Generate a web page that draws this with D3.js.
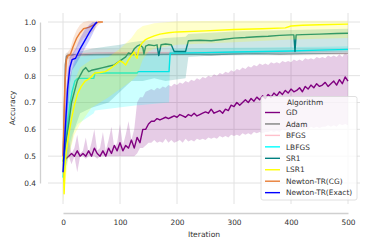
<!DOCTYPE html>
<html>
<head>
<meta charset="utf-8">
<script src="https://cdn.jsdelivr.net/npm/d3@7"></script>
<style>
body { margin: 0; background: #fff; }
svg { display: block; font-family: "DejaVu Sans", sans-serif; }
</style>
</head>
<body>
<svg id="chart" width="374" height="249"></svg>
<script>
const algorithms = ['GD', 'Adam', 'BFGS', 'LBFGS', 'SR1', 'LSR1', 'Newton-TR(CG)', 'Newton-TR(Exact)'];
const colors = ['#800080', '#808080', '#ffc0cb', '#00ffff', '#008080', '#ffff00', '#e87d35', '#0000ff'];
const xTicks = [0, 100, 200, 300, 400, 500];
const yTicks = [0.4, 0.5, 0.6, 0.7, 0.8, 0.9, 1.0];

// GD, one value every 5 iterations
const gdIter = d3.range(0, 505, 5);
const gdMean = [0.5,0.49,0.5,0.51,0.5,0.52,0.5,0.51,0.5,0.52,0.5,0.53,0.51,0.5,0.52,0.5,0.53,0.51,0.54,0.52,
	0.55,0.52,0.54,0.53,0.56,0.53,0.57,0.55,0.6,0.6,0.62,0.63,0.63,0.64,0.635,0.64,0.645,0.64,0.645,0.65,
	0.645,0.655,0.65,0.645,0.655,0.65,0.66,0.65,0.655,0.66,0.665,0.66,0.675,0.66,0.665,0.67,0.66,0.675,0.67,0.69,
	0.685,0.7,0.69,0.7,0.71,0.7,0.715,0.705,0.72,0.71,0.725,0.715,0.73,0.72,0.735,0.725,0.74,0.73,0.745,0.735,
	0.75,0.74,0.745,0.755,0.74,0.76,0.75,0.765,0.755,0.77,0.76,0.765,0.775,0.76,0.77,0.78,0.765,0.785,0.77,0.795,0.78];
const gdHi = [0.5,0.51,0.56,0.51,0.53,0.58,0.51,0.52,0.57,0.51,0.55,0.6,0.52,0.53,0.59,0.52,0.56,0.61,0.53,0.55,
	0.62,0.54,0.58,0.63,0.56,0.6,0.7,0.72,0.72,0.74,0.745,0.75,0.745,0.755,0.75,0.76,0.755,0.765,0.76,0.77,
	0.765,0.775,0.77,0.78,0.775,0.785,0.78,0.79,0.785,0.795,0.79,0.8,0.795,0.805,0.8,0.81,0.805,0.815,0.81,0.82,
	0.815,0.825,0.82,0.83,0.825,0.835,0.83,0.84,0.835,0.845,0.84,0.845,0.84,0.85,0.845,0.85,0.845,0.855,0.85,0.855,
	0.85,0.86,0.855,0.86,0.855,0.865,0.86,0.865,0.86,0.87,0.865,0.87,0.865,0.875,0.87,0.875,0.87,0.88,0.87,0.885,0.875];
const gdLo = [0.45,0.48,0.5,0.47,0.5,0.44,0.5,0.5,0.49,0.5,0.5,0.5,0.49,0.5,0.5,0.5,0.5,0.5,0.5,0.5,
	0.5,0.5,0.5,0.5,0.5,0.5,0.51,0.53,0.53,0.54,0.55,0.55,0.56,0.55,0.555,0.55,0.565,0.55,0.56,0.55,
	0.555,0.56,0.55,0.565,0.555,0.56,0.555,0.565,0.56,0.565,0.56,0.57,0.565,0.57,0.565,0.575,0.57,0.575,0.57,0.58,
	0.575,0.58,0.575,0.585,0.58,0.585,0.58,0.59,0.585,0.59,0.585,0.59,0.59,0.595,0.59,0.595,0.59,0.6,0.595,0.6,
	0.595,0.6,0.6,0.605,0.6,0.605,0.6,0.61,0.605,0.61,0.605,0.61,0.61,0.615,0.61,0.615,0.61,0.62,0.615,0.62,0.615];

const adamIter = [0, 2, 4, 6, 8, 20, 60, 100, 140, 180, 220, 260, 300, 340, 380, 420, 460, 500];
const adamMean = [0.5, 0.62, 0.84, 0.872, 0.876, 0.878, 0.879, 0.88, 0.879, 0.88, 0.881, 0.879, 0.881, 0.882, 0.881, 0.882, 0.883, 0.884];
const adamLo = [0.45, 0.5, 0.72, 0.84, 0.86, 0.872, 0.873, 0.874, 0.873, 0.874, 0.875, 0.873, 0.875, 0.876, 0.875, 0.876, 0.877, 0.878];
const adamHi = [0.55, 0.75, 0.88, 0.885, 0.885, 0.884, 0.885, 0.886, 0.885, 0.886, 0.887, 0.885, 0.887, 0.888, 0.887, 0.888, 0.889, 0.89];

const bfgsIter = [0, 5, 10, 15, 20, 30, 60, 100, 200, 300, 400, 500];
const bfgsMean = [0.5, 0.7, 0.82, 0.86, 0.875, 0.882, 0.885, 0.886, 0.886, 0.887, 0.887, 0.888];
const bfgsLo = [0.45, 0.6, 0.76, 0.83, 0.86, 0.872, 0.876, 0.878, 0.878, 0.879, 0.879, 0.88];
const bfgsHi = [0.55, 0.8, 0.87, 0.89, 0.9, 0.902, 0.9, 0.896, 0.895, 0.895, 0.895, 0.896];

const lbfgsIter = [0, 4, 8, 12, 16, 21, 26, 54, 56, 130, 132, 186, 188, 250, 300, 350, 400, 450, 500];
const lbfgsMean = [0.42, 0.55, 0.62, 0.69, 0.74, 0.78, 0.79, 0.79, 0.81, 0.81, 0.815, 0.815, 0.884, 0.886, 0.888, 0.89, 0.892, 0.895, 0.898];
const lbfgsLo = [0.38, 0.45, 0.5, 0.55, 0.58, 0.6, 0.62, 0.66, 0.67, 0.69, 0.69, 0.7, 0.875, 0.876, 0.877, 0.878, 0.88, 0.882, 0.885];
const lbfgsHi = [0.5, 0.65, 0.72, 0.78, 0.82, 0.85, 0.87, 0.88, 0.88, 0.88, 0.882, 0.882, 0.9, 0.902, 0.904, 0.905, 0.907, 0.908, 0.91];

const sr1Iter = [0, 5, 10, 15, 20, 25, 30, 35, 40, 45, 50, 60, 70, 80, 90, 100, 110, 115, 120, 125, 130, 135, 140, 142, 145, 150, 160, 165, 168, 172, 180, 190, 195, 200, 215, 220, 240, 260, 280, 300, 320, 340, 360, 380, 400, 405, 407, 409, 420, 450, 480, 500];
const sr1Mean = [0.48, 0.55, 0.62, 0.7, 0.74, 0.78, 0.8, 0.82, 0.83, 0.815, 0.82, 0.825, 0.83, 0.835, 0.84, 0.855, 0.87, 0.885, 0.88, 0.9, 0.91, 0.915, 0.905, 0.88, 0.91, 0.915, 0.912, 0.915, 0.875, 0.915, 0.918, 0.915, 0.89, 0.89, 0.89, 0.93, 0.932, 0.93, 0.935, 0.94, 0.942, 0.945, 0.947, 0.95, 0.952, 0.952, 0.89, 0.952, 0.953, 0.955, 0.957, 0.958];
const sr1BandIter = [0, 10, 20, 30, 50, 80, 100, 120, 140, 160, 180, 215, 220, 300, 400, 500];
const sr1Lo = [0.42, 0.5, 0.6, 0.66, 0.68, 0.7, 0.74, 0.78, 0.78, 0.79, 0.78, 0.79, 0.87, 0.88, 0.885, 0.89];
const sr1Hi = [0.55, 0.78, 0.86, 0.89, 0.9, 0.91, 0.915, 0.925, 0.93, 0.935, 0.94, 0.945, 0.955, 0.965, 0.97, 0.975];

const lsr1Iter = [0, 2, 4, 6, 10, 15, 20, 26, 32, 39, 47, 56, 65, 74, 82, 91, 100, 105, 110, 115, 120, 125, 128, 130, 133, 138, 144, 150, 160, 170, 185, 200, 250, 300, 350, 390, 400, 420, 450, 500];
const lsr1Mean = [0.5, 0.36, 0.48, 0.52, 0.58, 0.64, 0.69, 0.735, 0.76, 0.78, 0.79, 0.81, 0.812, 0.815, 0.825, 0.84, 0.855, 0.85, 0.84, 0.86, 0.875, 0.888, 0.87, 0.865, 0.9, 0.92, 0.933, 0.94, 0.948, 0.955, 0.96, 0.963, 0.967, 0.972, 0.975, 0.978, 0.985, 0.988, 0.99, 0.992];
const lsr1BandIter = [0, 5, 10, 20, 30, 50, 80, 100, 120, 130, 140, 150, 160, 200, 300, 400, 500];
const lsr1Lo = [0.33, 0.42, 0.5, 0.58, 0.62, 0.68, 0.72, 0.75, 0.78, 0.8, 0.86, 0.89, 0.9, 0.915, 0.925, 0.935, 0.94];
const lsr1Hi = [0.55, 0.6, 0.68, 0.78, 0.83, 0.86, 0.87, 0.9, 0.94, 0.97, 0.985, 0.99, 0.995, 1.003, 1.005, 1.005, 1.005];

const cgIter = [0, 3, 6, 9, 13, 18, 24, 30, 36, 45, 55, 62, 70];
const cgMean = [0.5, 0.75, 0.86, 0.875, 0.88, 0.91, 0.94, 0.96, 0.975, 0.98, 0.99, 1.0, 1.0];
const cgLo = [0.45, 0.65, 0.8, 0.84, 0.86, 0.88, 0.9, 0.92, 0.94, 0.95, 0.97, 0.99, 1.0];
const cgHi = [0.55, 0.82, 0.88, 0.89, 0.9, 0.94, 0.97, 0.99, 1.0, 1.005, 1.005, 1.005, 1.0];

const exactIter = [0, 4, 8, 12, 16, 22, 30, 38, 46, 52, 57, 60];
const exactMean = [0.44, 0.6, 0.75, 0.83, 0.86, 0.865, 0.9, 0.93, 0.96, 0.98, 0.995, 1.0];
const exactLo = [0.4, 0.5, 0.65, 0.77, 0.82, 0.84, 0.87, 0.9, 0.93, 0.955, 0.98, 1.0];
const exactHi = [0.5, 0.7, 0.82, 0.87, 0.88, 0.9, 0.94, 0.97, 0.99, 1.0, 1.0, 1.0];

function zip(iter, vals) {
	return iter.map(function(it, i) { return [it, vals[i]]; });
}
function band(iter, lo, hi) {
	return iter.map(function(it, i) { return [it, lo[i], hi[i]]; });
}

const series = [
	{line: zip(gdIter, gdMean), band: band(gdIter, gdLo, gdHi)},
	{line: zip(adamIter, adamMean), band: band(adamIter, adamLo, adamHi)},
	{line: zip(bfgsIter, bfgsMean), band: band(bfgsIter, bfgsLo, bfgsHi)},
	{line: zip(lbfgsIter, lbfgsMean), band: band(lbfgsIter, lbfgsLo, lbfgsHi)},
	{line: zip(sr1Iter, sr1Mean), band: band(sr1BandIter, sr1Lo, sr1Hi)},
	{line: zip(lsr1Iter, lsr1Mean), band: band(lsr1BandIter, lsr1Lo, lsr1Hi)},
	{line: zip(cgIter, cgMean), band: band(cgIter, cgLo, cgHi)},
	{line: zip(exactIter, exactMean), band: band(exactIter, exactLo, exactHi)},
];

var svg = d3.select('#chart');
var x = d3.scaleLinear().domain([0, 500]).range([63, 348]);
var y = d3.scaleLinear().domain([0.4, 1.0]).range([183, 22]);
var plotLeft = 48, plotRight = 360, plotTop = 13, plotBottom = 204;

svg.append('clipPath').attr('id', 'clip')
	.append('rect').attr('x', plotLeft).attr('y', plotTop)
	.attr('width', plotRight - plotLeft).attr('height', plotBottom - plotTop);

// grid
svg.append('g').selectAll('line').data(yTicks).enter().append('line')
	.attr('x1', plotLeft).attr('x2', plotRight)
	.attr('y1', d => y(d)).attr('y2', d => y(d))
	.attr('stroke', '#e2e2e2').attr('stroke-width', 1);
svg.append('g').selectAll('line').data(xTicks).enter().append('line')
	.attr('x1', d => x(d)).attr('x2', d => x(d))
	.attr('y1', plotTop).attr('y2', plotBottom)
	.attr('stroke', '#e2e2e2').attr('stroke-width', 1);

// trimmed, offset spines
var yAxis = svg.append('g').attr('transform', 'translate(40,0)')
	.call(d3.axisLeft(y).tickValues(yTicks).tickFormat(d3.format('.1f')).tickSize(0).tickPadding(4));
var xAxis = svg.append('g').attr('transform', 'translate(0,213)')
	.call(d3.axisBottom(x).tickValues(xTicks).tickSize(0).tickPadding(7));
[xAxis, yAxis].forEach(function(a) {
	a.select('.domain').attr('stroke', '#d0d0d0').attr('stroke-width', 1.3);
	a.selectAll('text').attr('font-size', '7.4px').attr('fill', '#333').attr('font-family', 'DejaVu Sans');
});

var plot = svg.append('g').attr('clip-path', 'url(#clip)');
var area = d3.area().x(d => x(d[0])).y0(d => y(d[1])).y1(d => y(d[2]));
var line = d3.line().x(d => x(d[0])).y(d => y(d[1]));

series.forEach(function(s, i) {
	plot.append('path').datum(s.band).attr('d', area)
		.attr('fill', colors[i]).attr('fill-opacity', 0.2).attr('stroke', 'none');
	plot.append('path').datum(s.line).attr('d', line)
		.attr('fill', 'none').attr('stroke', colors[i]).attr('stroke-width', 1.4)
		.attr('stroke-linejoin', 'round');
});

svg.append('text').attr('x', (plotLeft + plotRight) / 2).attr('y', 237)
	.attr('text-anchor', 'middle').attr('font-size', '7.6px').attr('fill', '#333')
	.text('Iteration');
svg.append('text').attr('transform', 'translate(15,108) rotate(-90)')
	.attr('text-anchor', 'middle').attr('font-size', '7.6px').attr('fill', '#333')
	.text('Accuracy');

// legend
var lg = svg.append('g');
lg.append('rect').attr('x', 261).attr('y', 96.5).attr('width', 96).attr('height', 103.5)
	.attr('rx', 2).attr('fill', '#fff').attr('fill-opacity', 0.8)
	.attr('stroke', '#d8d8d8').attr('stroke-width', 0.8);
lg.append('text').attr('x', 305).attr('y', 104.5).attr('text-anchor', 'middle')
	.attr('font-size', '7.4px').attr('fill', '#333').text('Algorithm');
var items = lg.selectAll('g.item').data(algorithms).enter().append('g')
	.attr('transform', (d, i) => 'translate(0,' + (112.5 + i * 11.45) + ')');
items.append('line').attr('x1', 265).attr('x2', 280).attr('y1', 0).attr('y2', 0)
	.attr('stroke', (d, i) => colors[i]).attr('stroke-width', 1.4);
items.append('text').attr('x', 286).attr('y', 2.7)
	.attr('font-size', '7.4px').attr('fill', '#333').text(d => d);
</script>
</body>
</html>
